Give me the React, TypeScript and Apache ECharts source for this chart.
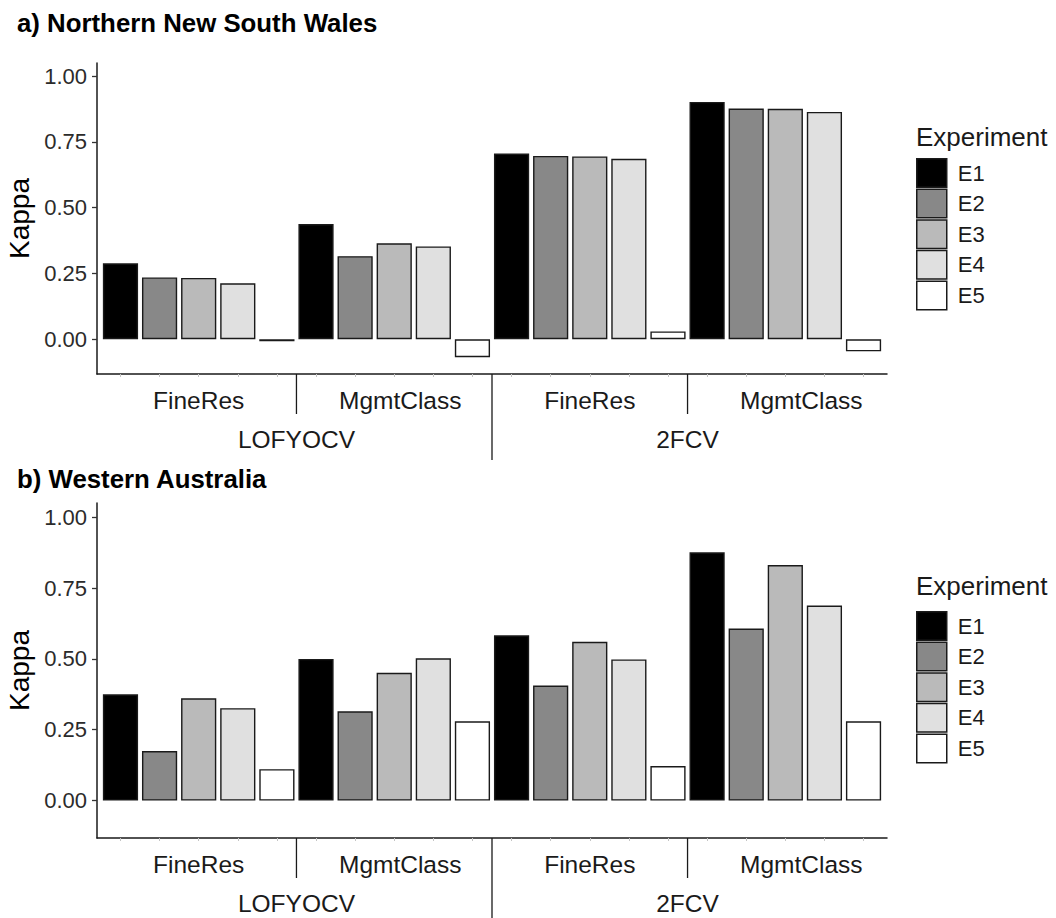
import React, { useEffect, useRef } from "react";
import * as echarts from "echarts";

// ---- data ---------------------------------------------------------------
const experiments = ["E1", "E2", "E3", "E4", "E5"];
const validations = ["LOFYOCV", "2FCV"];
const covariateSets = ["FineRes", "MgmtClass"];
const yTicks = [0, 0.25, 0.5, 0.75, 1.0];

// Kappa by experiment; group order:
// LOFYOCV/FineRes, LOFYOCV/MgmtClass, 2FCV/FineRes, 2FCV/MgmtClass
const nswE1 = [0.289, 0.438, 0.706, 0.902];
const nswE2 = [0.235, 0.316, 0.697, 0.877];
const nswE3 = [0.233, 0.365, 0.695, 0.876];
const nswE4 = [0.213, 0.353, 0.686, 0.864];
const nswE5 = [-0.008, -0.068, 0.03, -0.046];

const waE1 = [0.375, 0.5, 0.583, 0.876];
const waE2 = [0.175, 0.315, 0.406, 0.607];
const waE3 = [0.361, 0.451, 0.56, 0.831];
const waE4 = [0.326, 0.502, 0.498, 0.688];
const waE5 = [0.111, 0.28, 0.122, 0.28];

const nswTitle = "a) Northern New South Wales";
const waTitle = "b) Western Australia";
const legendTitle = "Experiment";
const yName = "Kappa";

// ---- styling / layout ---------------------------------------------------
const FONT = "'Liberation Sans', Arial, Helvetica, sans-serif";
const fills = ["#000000", "#888888", "#bababa", "#e0e0e0", "#ffffff"];
const INK = "#1a1a1a";
const AXIS_LEFT = 97;
const AXIS_RIGHT = 887;
const Y_MIN = -0.132;
const Y_MAX = 1.05;
const EXPAND = 0.6; // discrete-axis padding, in bar slots
const INNER_SEP = 40;
const OUTER_SEP = 86;
// small horizontal nudges of the covariate labels (px)
const groupLabelShift = [0, 6, 0, 16];

const panels = [
  { title: nswTitle, titleTop: 10, top: 63, height: 311, legendTitleTop: 124, legendTop: 158, series: [nswE1, nswE2, nswE3, nswE4, nswE5] },
  { title: waTitle, titleTop: 466, top: 503, height: 335, legendTitleTop: 573, legendTop: 611, series: [waE1, waE2, waE3, waE4, waE5] },
];

const groups = validations.flatMap((v) => covariateSets.map((c) => `${v}|${c}`));
const barSlots = groups.flatMap((g) => experiments.map((e) => `${g}|${e}`));

function buildOption() {
  const nSlots = barSlots.length;
  const slot = (AXIS_RIGHT - AXIS_LEFT) / (nSlots - 1 + 2 * EXPAND);
  const barLeft = AXIS_LEFT + (EXPAND - 0.5) * slot;
  const barWidthPx = nSlots * slot;

  const grid: any[] = [];
  const xAxis: any[] = [];
  const yAxis: any[] = [];
  const series: any[] = [];
  const title: any[] = [];
  const legend: any[] = [];

  const rich: any = {};
  groupLabelShift.forEach((s, i) => {
    rich[`g${i}`] = { fontSize: 24.5, color: INK, fontFamily: FONT, padding: [0, 0, 0, 2 * s] };
  });

  const gridBase = { containLabel: false, outerBoundsMode: "none" };

  panels.forEach((p, pi) => {
    const gA = 2 * pi;
    const gB = 2 * pi + 1;
    grid.push({ ...gridBase, left: AXIS_LEFT, top: p.top, width: AXIS_RIGHT - AXIS_LEFT, height: p.height });
    grid.push({ ...gridBase, left: barLeft, top: p.top, width: barWidthPx, height: p.height });

    // axis line spanning the full panel
    xAxis.push({
      gridIndex: gA, type: "value", position: "bottom", min: 0, max: 1,
      axisLine: { show: true, onZero: false, lineStyle: { color: INK, width: 1.5 } },
      axisTick: { show: false }, axisLabel: { show: false }, splitLine: { show: false },
    });
    // one light tick per bar
    xAxis.push({
      gridIndex: gB, type: "category", position: "bottom", data: barSlots,
      axisLine: { show: false, onZero: false },
      axisTick: { show: true, alignWithLabel: true, interval: 0, length: 3, lineStyle: { color: "#c4c4c4", width: 1 } },
      axisLabel: { show: false }, splitLine: { show: false },
    });
    // covariate-set level
    xAxis.push({
      gridIndex: gB, type: "category", position: "bottom", data: groups,
      axisLine: { show: false, onZero: false }, axisTick: { show: false }, splitLine: { show: false },
      axisLabel: {
        interval: 0, margin: 14, fontSize: 24.5, color: INK, fontFamily: FONT,
        formatter: (v: string, i: number) => `{g${i}|${v.split("|")[1]}}`,
        rich,
      },
    });
    // validation level
    xAxis.push({
      gridIndex: gB, type: "category", position: "bottom", data: validations,
      axisLine: { show: false, onZero: false }, axisTick: { show: false }, splitLine: { show: false },
      axisLabel: { interval: 0, margin: 53, fontSize: 24.5, color: INK, fontFamily: FONT },
    });

    yAxis.push({
      gridIndex: gA, type: "value", min: Y_MIN, max: Y_MAX, position: "left",
      name: yName, nameLocation: "middle", nameGap: 60, nameRotate: 90,
      nameTextStyle: { fontSize: 28, color: "#000", fontFamily: FONT },
      axisLine: { show: true, onZero: false, lineStyle: { color: INK, width: 1.5 } },
      axisTick: { show: true, length: 5, customValues: yTicks, lineStyle: { color: "#333", width: 1.3 } },
      axisLabel: {
        show: true, margin: 10, fontSize: 22, color: "#2b2b2b", fontFamily: FONT,
        customValues: yTicks, formatter: (v: number) => v.toFixed(2),
      },
      splitLine: { show: false },
    });
    yAxis.push({
      gridIndex: gB, type: "value", min: Y_MIN, max: Y_MAX, show: false,
      axisLine: { onZero: false }, splitLine: { show: false },
    });

    p.series.forEach((vals, ei) => {
      series.push({
        type: "bar",
        name: experiments[ei],
        xAxisIndex: 4 * pi + 2,
        yAxisIndex: 2 * pi + 1,
        data: vals,
        barWidth: "18%",
        barGap: "11.1%",
        itemStyle: { color: fills[ei], borderColor: INK, borderWidth: 1.4 },
        emphasis: { disabled: true },
      });
    });

    title.push({
      text: p.title, left: 17, top: p.titleTop, padding: 0,
      textStyle: { fontSize: 25.8, fontWeight: "bold", color: "#000", fontFamily: FONT },
    });
    title.push({
      text: legendTitle, left: 916, top: p.legendTitleTop, padding: 0,
      textStyle: { fontSize: 26, fontWeight: "normal", color: INK, fontFamily: FONT },
    });
    legend.push({
      orient: "vertical", left: 916, top: p.legendTop, padding: 0,
      itemWidth: 30, itemHeight: 28.5, itemGap: 0.6, icon: "rect",
      data: experiments, selectedMode: false,
      itemStyle: { borderColor: INK, borderWidth: 1.5 },
      textStyle: { fontSize: 22, lineHeight: 24, color: INK, fontFamily: FONT, padding: [0, 0, 0, 6] },
    });
  });

  return {
    animation: false,
    backgroundColor: "#ffffff",
    textStyle: { fontFamily: FONT },
    grid, xAxis, yAxis, series, title, legend,
  };
}

export default function App() {
  const ref = useRef<HTMLDivElement>(null);

  useEffect(() => {
    if (!ref.current) return;
    const chart = echarts.init(ref.current, undefined, { renderer: "svg" });
    chart.setOption(buildOption());

    // separators between the axis groups, placed through the axes' own scales
    const graphic: any[] = [];
    panels.forEach((p, pi) => {
      const base = chart.convertToPixel({ yAxisIndex: 2 * pi + 1 }, Y_MIN) as number;
      const centers = groups.map((_, i) => chart.convertToPixel({ xAxisIndex: 4 * pi + 2 }, i) as number);
      for (let i = 1; i < groups.length; i++) {
        const x = (centers[i - 1] + centers[i]) / 2;
        const outer = i % covariateSets.length === 0;
        graphic.push({
          type: "line",
          silent: true,
          shape: { x1: x, y1: base, x2: x, y2: base + (outer ? OUTER_SEP : INNER_SEP) },
          style: { stroke: INK, lineWidth: 1.3 },
        });
      }
    });
    chart.setOption({ graphic });

    return () => chart.dispose();
  }, []);

  return (
    <div
      ref={ref}
      style={{ position: "fixed", left: 0, top: 0, width: 1056, height: 918, background: "#fff" }}
    />
  );
}
